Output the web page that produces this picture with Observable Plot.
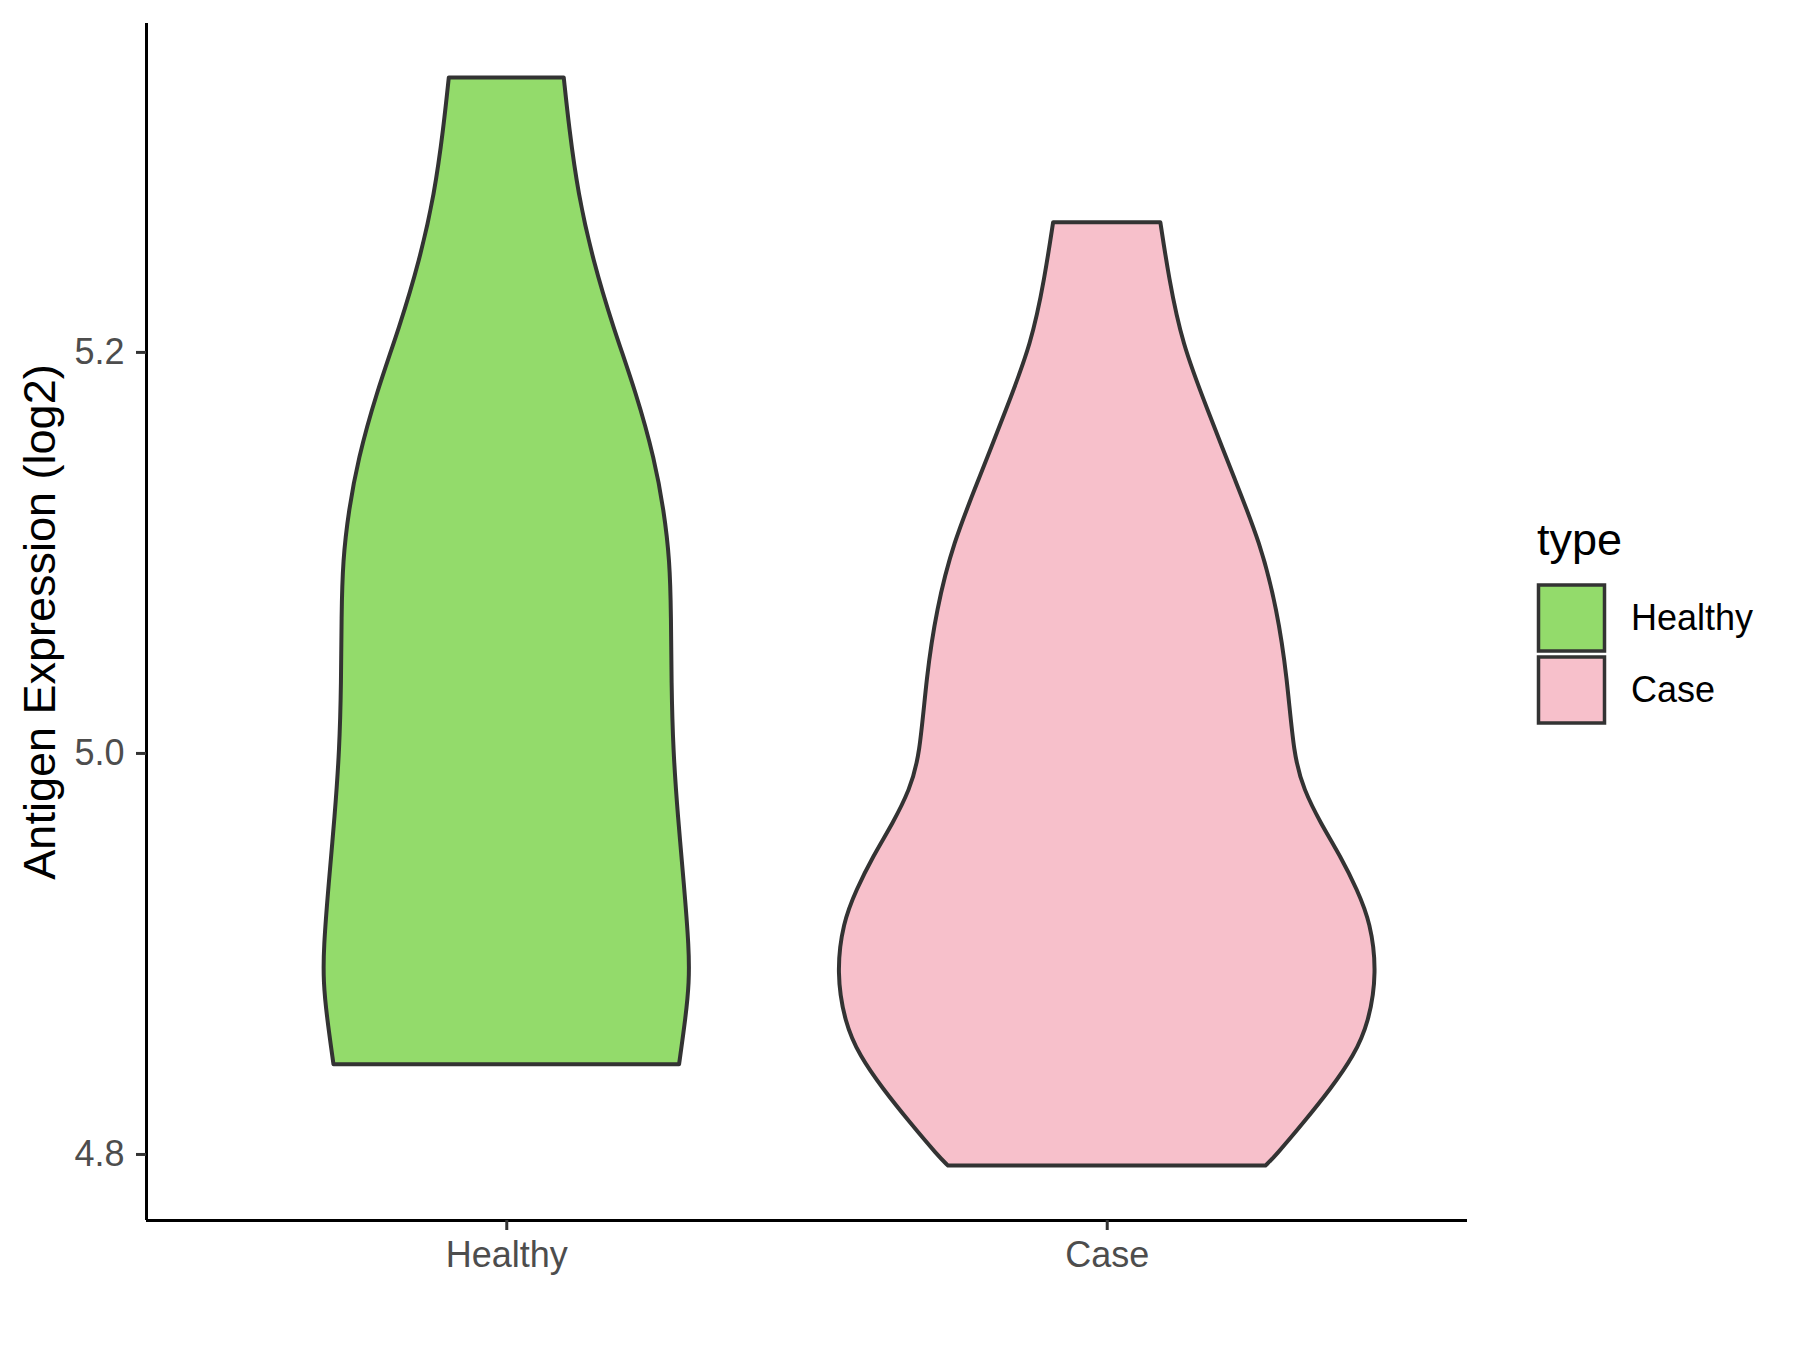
<!DOCTYPE html>
<html>
<head>
<meta charset="utf-8">
<script src="https://cdn.jsdelivr.net/npm/d3@7"></script>
<script src="https://cdn.jsdelivr.net/npm/@observablehq/plot@0.6"></script>
<style>
  html, body { margin: 0; padding: 0; background: #fff; }
  #wrap { position: relative; width: 1800px; height: 1350px; font-family: "Liberation Sans", Arial, sans-serif; }
  #legend { position: absolute; left: 0; top: 0; }
</style>
</head>
<body>
<div id="wrap"></div>
<script>
// ---- data ----
const categories = ["Healthy", "Case"];
const colors = ["#93DB6B", "#F7C0CB"];
const yTicks = [4.8, 5.0, 5.2];
const yLabel = "Antigen Expression (log2)";
const legendTitle = "type";

// Healthy violin: expression values (top to bottom) and half-widths (x units)
const healthyY = [5.3369, 5.3120, 5.2788, 5.2456, 5.2124, 5.1793, 5.1460, 5.1211, 5.0962, 5.0680, 5.0349, 5.0016, 4.9684, 4.9353, 4.9021, 4.8855, 4.8688, 4.8448];
const healthyHalfWidth = [0.0957, 0.1045, 0.1195, 0.1445, 0.1778, 0.2167, 0.2473, 0.2623, 0.2723, 0.2745, 0.2750, 0.2778, 0.2857, 0.2957, 0.3045, 0.3045, 0.2990, 0.2878];

// Case violin
const caseY = [5.2647, 5.2373, 5.2042, 5.1709, 5.1377, 5.1046, 5.0714, 5.0381, 4.9983, 4.9817, 4.9651, 4.9485, 4.9319, 4.9154, 4.8905, 4.8656, 4.8489, 4.8324, 4.8158, 4.7991, 4.7942];
const caseHalfWidth = [0.0893, 0.1032, 0.1253, 0.1682, 0.2115, 0.2560, 0.2837, 0.3003, 0.3115, 0.3282, 0.3560, 0.3893, 0.4170, 0.4393, 0.4500, 0.4365, 0.4115, 0.3727, 0.3282, 0.2810, 0.2643];

// ---- build ----
function violinRows(type, idx, ys, hw) {
  return ys.map((y, i) => ({type, y, x1: idx - hw[i], x2: idx + hw[i]}));
}
const rows = [
  ...violinRows(categories[0], 0, healthyY, healthyHalfWidth),
  ...violinRows(categories[1], 1, caseY, caseHalfWidth)
];

const allY = healthyY.concat(caseY);
const yMin = d3.min(allY), yMax = d3.max(allY);
const pad = (yMax - yMin) * 0.05;
const yDomain = [yMin - pad, yMax + pad];
const xDomain = [-0.6, 1.6];

const chart = Plot.plot({
  width: 1800,
  height: 1350,
  marginLeft: 146,
  marginRight: 333,
  marginTop: 23,
  marginBottom: 130,
  style: {fontFamily: "'Liberation Sans', Arial, sans-serif", fontSize: "36px", background: "#fff"},
  x: {domain: xDomain, axis: null},
  y: {domain: yDomain, axis: null},
  color: {domain: categories, range: colors},
  marks: [
    Plot.areaX(rows, {y: "y", x1: "x1", x2: "x2", fill: "type", z: "type", stroke: "#333333", strokeWidth: 4, curve: "basis"}),
    Plot.ruleY([yDomain[0]], {stroke: "#000", strokeWidth: 3}),
    Plot.ruleX([xDomain[0]], {stroke: "#000", strokeWidth: 3}),
    Plot.axisY({ticks: yTicks, tickFormat: d3.format(".1f"), tickSize: 10, tickPadding: 12, stroke: "#333333", strokeWidth: 3, fill: "#4D4D4D", fontSize: 36, label: null}),
    Plot.axisX({ticks: [0, 1], tickFormat: d => categories[d], tickSize: 10, tickPadding: 11, stroke: "#333333", strokeWidth: 3, fill: "#4D4D4D", fontSize: 36, label: null}),
    Plot.text([yLabel], {frameAnchor: "left", rotate: -90, dx: -106, textAnchor: "middle", lineAnchor: "middle", fontSize: 45, fill: "#000"})
  ]
});

const wrap = document.getElementById("wrap");
wrap.appendChild(chart);

// ---- legend (right side) ----
const leg = d3.select(wrap).append("svg")
  .attr("id", "legend")
  .attr("width", 1800).attr("height", 1350)
  .style("pointer-events", "none")
  .style("font-family", "'Liberation Sans', Arial, sans-serif");
leg.append("text").attr("x", 1537).attr("y", 555).attr("font-size", 45).attr("fill", "#000").text(legendTitle);
categories.forEach((c, i) => {
  leg.append("rect")
    .attr("x", 1538.5).attr("y", 585 + i * 72)
    .attr("width", 66).attr("height", 66)
    .attr("fill", colors[i]).attr("stroke", "#333333").attr("stroke-width", 3.5);
  leg.append("text").attr("x", 1631).attr("y", 630 + i * 72)
    .attr("font-size", 36).attr("fill", "#000").text(c);
});
</script>
</body>
</html>
